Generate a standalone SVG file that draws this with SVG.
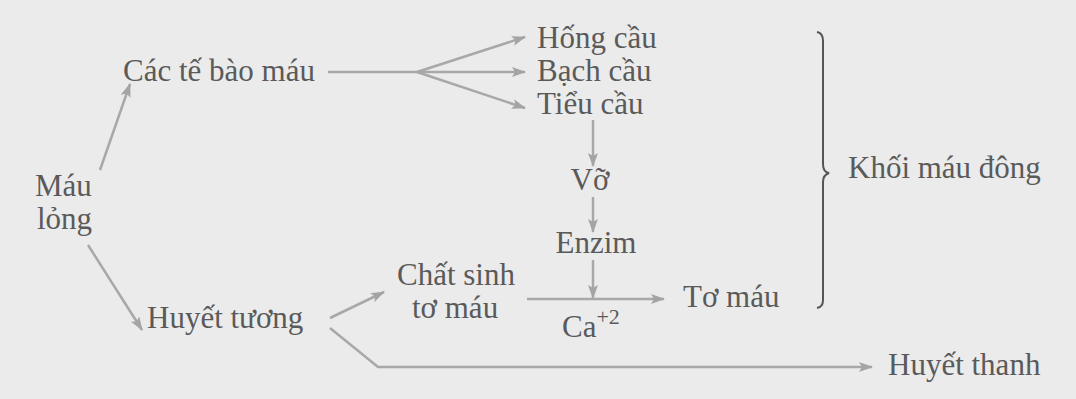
<svg xmlns="http://www.w3.org/2000/svg" width="1076" height="399" viewBox="0 0 1076 399">
<defs>
<marker id="ah" viewBox="0 0 14 10" refX="13" refY="5" markerWidth="14" markerHeight="10" markerUnits="userSpaceOnUse" orient="auto">
<path d="M0,0 L14,5 L0,10 L3,5 z" fill="#a4a4a4"/>
</marker>
<style>
text{font-family:"Liberation Serif","Times New Roman",serif;font-size:31px;fill:#5a5a5a}
.c{fill:none;stroke:#a8a8a8;stroke-width:2.5}
.a{marker-end:url(#ah)}
.b{fill:none;stroke:#555;stroke-width:2}
</style>
</defs>
<rect width="1076" height="399" fill="#ebebeb"/>
<g id="connectors">
<path class="c a" d="M100,170 L130,84"/>
<path class="c a" d="M88,245 L142,330"/>
<path class="c" d="M328,72 L417,72"/>
<path class="c a" d="M417,72 L525,37"/>
<path class="c a" d="M417,72 L525,72"/>
<path class="c a" d="M417,72 L525,108"/>
<path class="c a" d="M593,120 L593,166"/>
<path class="c a" d="M593,197 L593,232"/>
<path class="c a" d="M593,260 L593,298"/>
<path class="c a" d="M527,299 L664,299"/>
<path class="c a" d="M330,318 L384,292"/>
<path class="c a" d="M330,328 L378,367 L872,367"/>
</g>
<g id="brace"><path class="b" d="M817,32 Q823,33 823,41 L823,164 Q823,172 829,173 Q823,175 823,182 L823,300 Q823,307 817,308"/></g>
<g id="mau-long"><text x="35" y="196">Máu</text><text x="37" y="229">lỏng</text></g>
<g id="cac-te-bao-mau"><text x="123" y="81">Các tế bào máu</text></g>
<g id="hong-cau"><text x="537" y="48">Hống cầu</text></g>
<g id="bach-cau"><text x="537" y="81">Bạch cầu</text></g>
<g id="tieu-cau"><text x="537" y="114">Tiểu cầu</text></g>
<g id="vo"><text x="590" y="190" text-anchor="middle">Vỡ</text></g>
<g id="enzim"><text x="596" y="253" text-anchor="middle">Enzim</text></g>
<g id="huyet-tuong"><text x="147" y="328">Huyết tương</text></g>
<g id="chat-sinh-to-mau"><text x="397" y="285">Chất sinh</text><text x="412" y="318">tơ máu</text></g>
<g id="ca"><text x="562" y="337">Ca<tspan dy="-13" font-size="22">+2</tspan></text></g>
<g id="to-mau"><text x="683" y="307">Tơ máu</text></g>
<g id="khoi-mau-dong"><text x="848" y="178">Khối máu đông</text></g>
<g id="huyet-thanh"><text x="888" y="375">Huyết thanh</text></g>
</svg>
